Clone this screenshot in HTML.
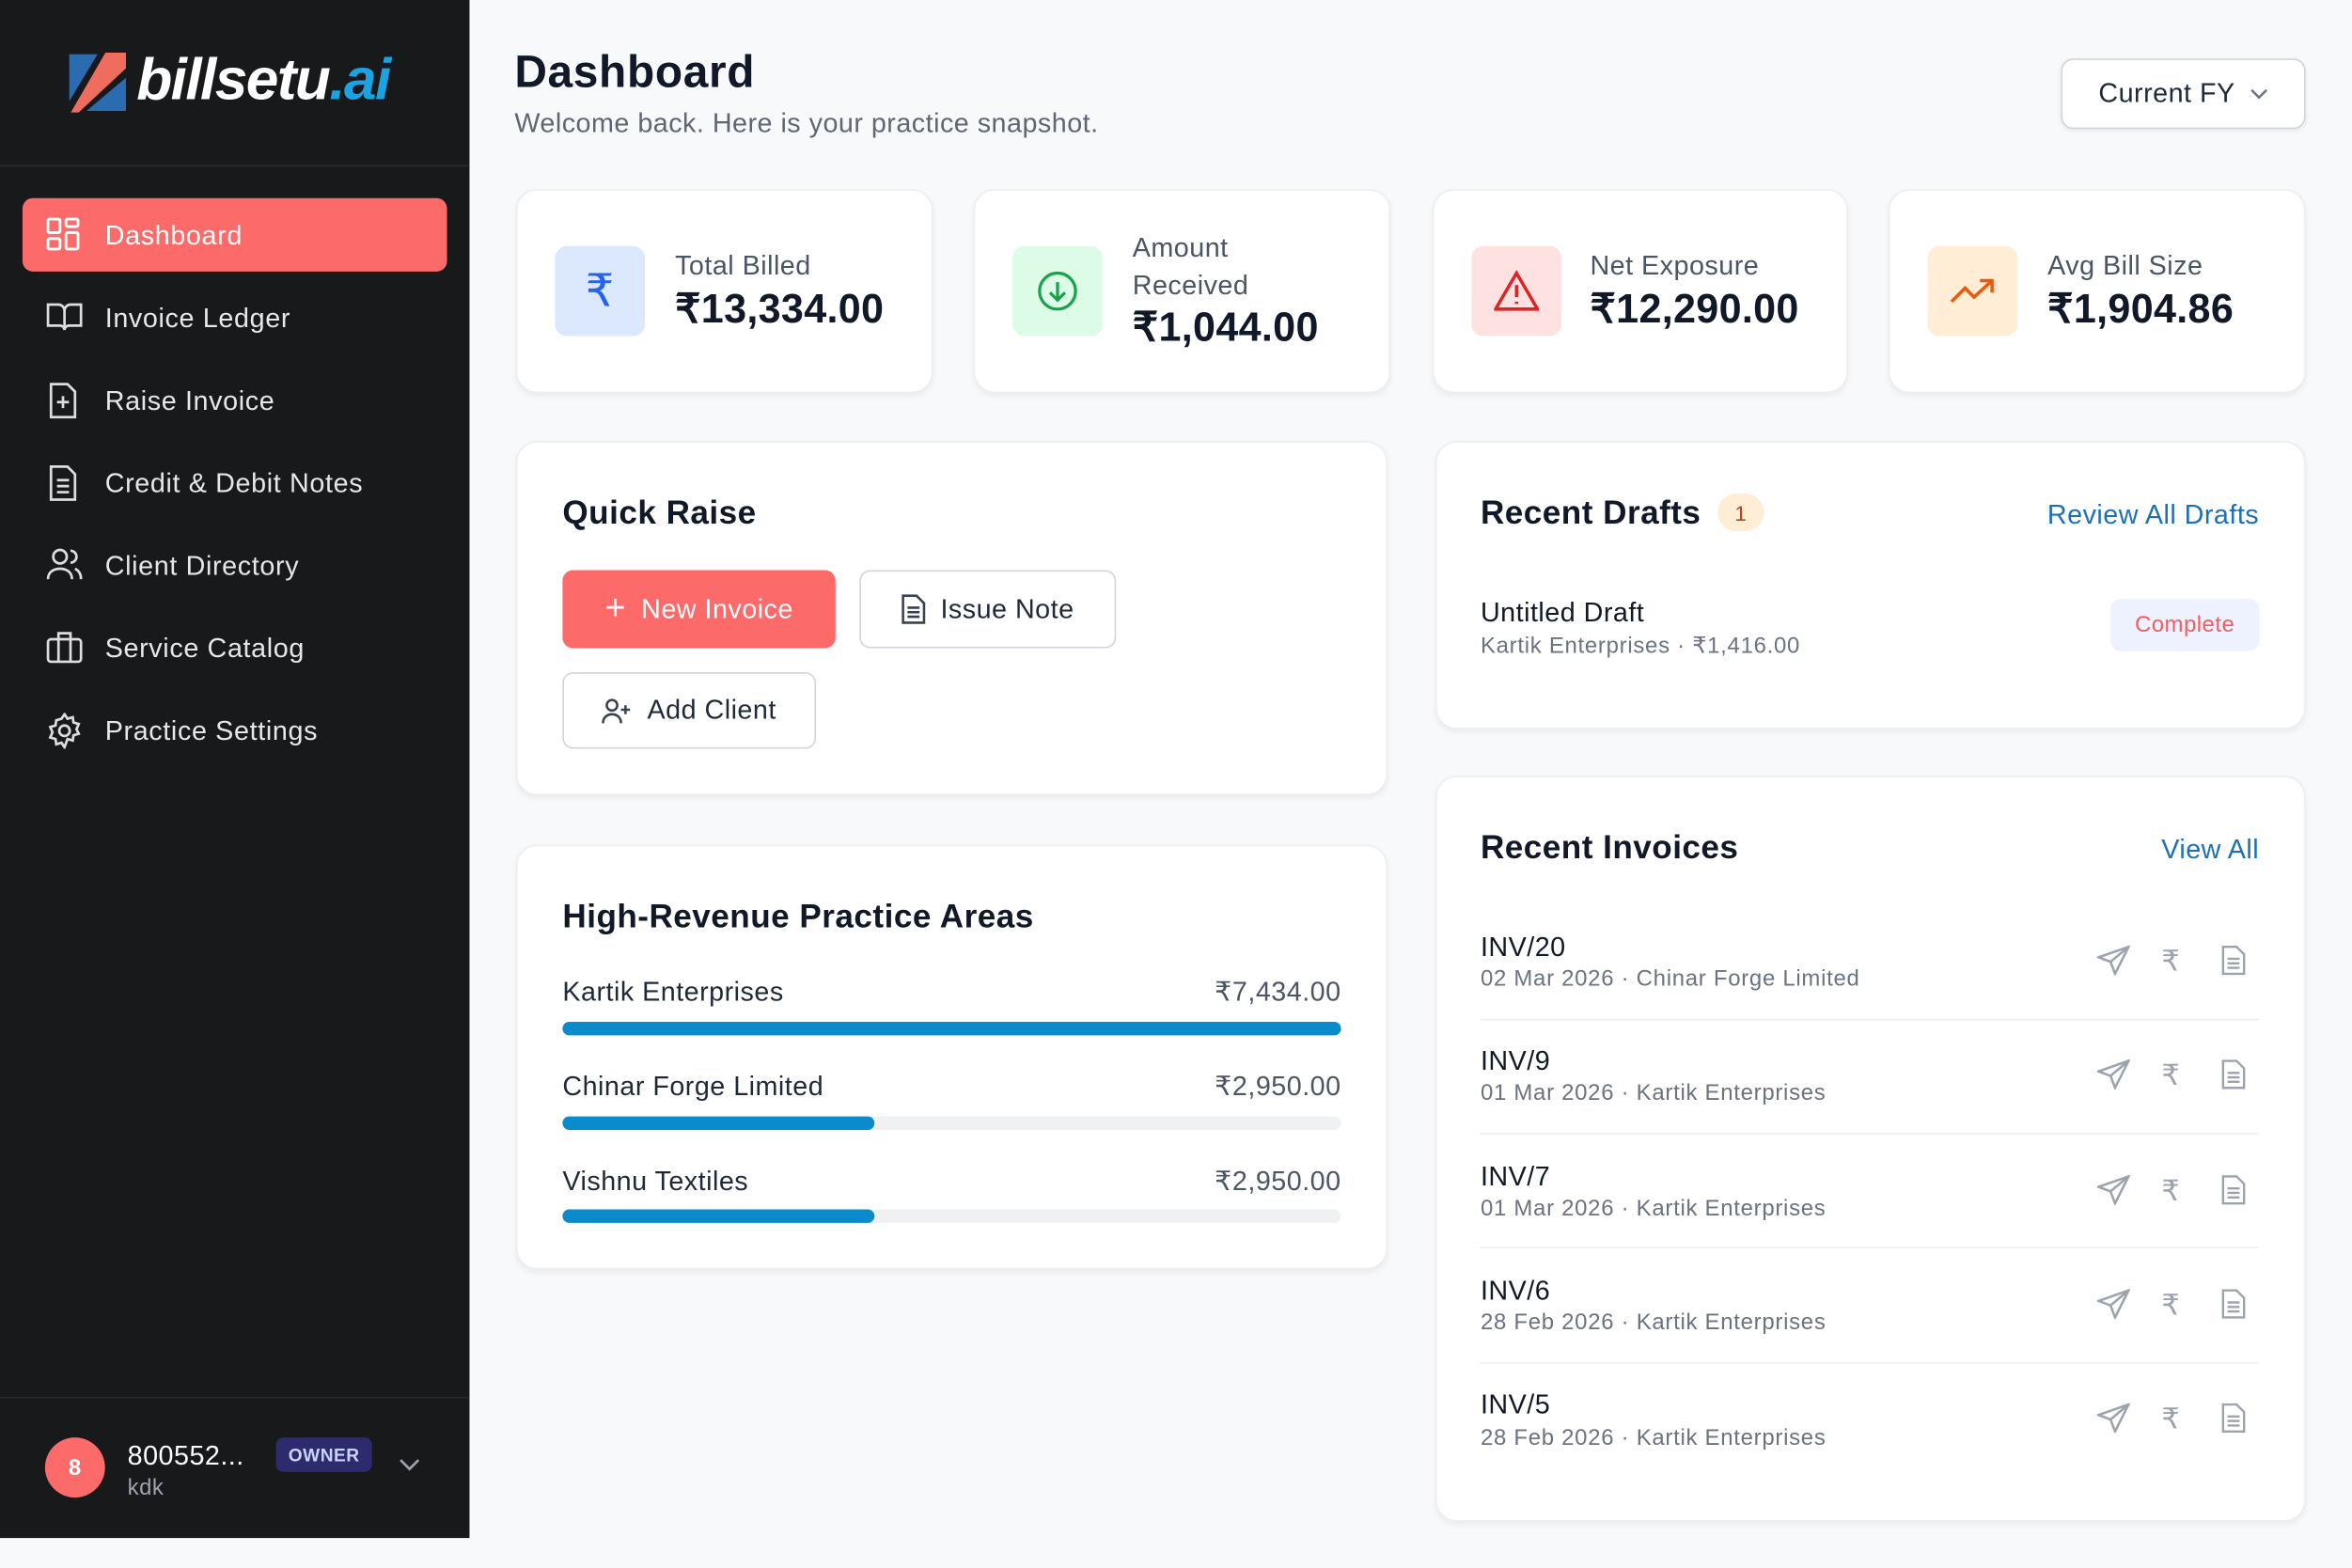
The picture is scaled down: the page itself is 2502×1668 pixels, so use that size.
<!DOCTYPE html>
<html><head><meta charset="utf-8"><style>
*{box-sizing:border-box;margin:0;padding:0}
html,body{width:2502px;height:1668px;overflow:hidden;background:#f8f9fb}
#w{position:absolute;left:0;top:0;width:1568px;height:1045px;transform:scale(1.5957,1.5962);transform-origin:0 0;font-family:"Liberation Sans",sans-serif;color:#111827;letter-spacing:0.3px}
.a{position:absolute}
.sb{left:0;top:0;width:313px;height:1025px;background:#18191b}
.nav{left:15px;width:283px;height:49px;border-radius:7px;color:#e5e7eb;font-size:18px;display:flex;align-items:center;padding-left:55px;padding-top:2px;letter-spacing:0.4px}
.nav svg{position:absolute;left:16px;top:13px}
.card{background:#fff;border:1px solid #eceef2;border-radius:14px;box-shadow:0 2px 4px rgba(0,0,0,.06)}
.ic{width:60px;height:60px;border-radius:8px;display:flex;align-items:center;justify-content:center}
.lbl{font-size:18px;color:#4b5563}
.val{font-size:27px;font-weight:bold;color:#111827;letter-spacing:0.2px}
.h{font-size:22px;font-weight:bold;color:#111827}
.btn{border:1px solid #d1d5db;border-radius:7px;background:#fff;display:flex;align-items:center;justify-content:center;font-size:18px;color:#1f2937;gap:10px}
.bar{height:9px;border-radius:5px;background:#f0f1f3;left:375px;width:519px}
.bar i{display:block;height:9px;border-radius:5px;background:#0b8bcb}
.rn{font-size:18px;color:#1f2937}
.ra{font-size:18px;color:#4b5563;text-align:right}
.inv{font-size:18px;color:#111827}
.sub{font-size:15px;color:#6b7280;letter-spacing:0.45px}
.sep{left:987px;width:519px;height:1px;background:#eceef1}
.t{margin-top:1px}
</style></head><body><div id="w">
<div class="a sb"></div>
<svg class="a" style="left:43px;top:34px" width="42" height="42" viewBox="0 0 40 40"><path d="M3 2h18L3 32z" fill="#2b6cb0"/><path d="M26 1h13v10L9 39H4z" fill="#ee6d5e"/><path d="M39 17v21H14z" fill="#2b6cb0"/></svg>
<div class="a" style="left:91px;top:32px;font-size:39px;font-weight:bold;font-style:italic;color:#fff;letter-spacing:-1px">billsetu<span style="color:#1aa3e0">.ai</span></div>
<div class="a" style="left:0;top:110px;width:313px;height:1px;background:#2a2b2e"></div>
<div class="a nav" style="top:132px;background:#fc6b6a;color:#fff"><svg width="22" height="22" viewBox="0 0 22 22" fill="none" stroke="#fff" stroke-width="1.8"><rect x="1" y="1" width="8" height="9" rx="1"/><rect x="13" y="1" width="8" height="5" rx="1"/><rect x="13" y="10" width="8" height="11" rx="1"/><rect x="1" y="14" width="8" height="7" rx="1"/></svg>Dashboard</div>
<div class="a nav" style="top:187px"><svg width="24" height="22" viewBox="0 0 24 22" fill="none" stroke="#ddd" stroke-width="1.7"><path d="M1 3h7a4 4 0 0 1 4 4v13a3 3 0 0 0-3-3H1zM23 3h-7a4 4 0 0 0-4 4v13a3 3 0 0 1 3-3h8z"/></svg>Invoice Ledger</div>
<div class="a nav" style="top:242px"><svg width="22" height="24" viewBox="0 0 22 24" fill="none" stroke="#ddd" stroke-width="1.7"><path d="M3 1h11l5 5v17H3zM11 9v8M7 13h8"/></svg>Raise Invoice</div>
<div class="a nav" style="top:297px"><svg width="22" height="24" viewBox="0 0 22 24" fill="none" stroke="#ddd" stroke-width="1.7"><path d="M3 1h11l5 5v17H3zM7 10h8M7 14h8M7 18h8"/></svg>Credit &amp; Debit Notes</div>
<div class="a nav" style="top:352px"><svg width="24" height="22" viewBox="0 0 24 22" fill="none" stroke="#ddd" stroke-width="1.7"><circle cx="9" cy="6" r="4.5"/><path d="M1 21c0-5 4-7 8-7s8 2 8 7M16 2a4 4 0 0 1 0 8M19 14c2 1 4 3 4 7"/></svg>Client Directory</div>
<div class="a nav" style="top:407px"><svg width="24" height="22" viewBox="0 0 24 22" fill="none" stroke="#ddd" stroke-width="1.7"><rect x="1" y="6" width="22" height="15" rx="2"/><path d="M8 6V2h8v4M8 6v15M16 6v15"/></svg>Service Catalog</div>
<div class="a nav" style="top:462px"><svg width="24" height="24" viewBox="0 0 24 24" fill="none" stroke="#ddd" stroke-width="1.7"><circle cx="12" cy="12" r="3.5"/><path d="M12 1l2 3 3.5-1 .5 3.5 3.5 1-1.5 3.5 1.5 3-3.5 1-.5 3.5-3.5-1L12 23l-2-3-3.5 1-.5-3.5-3.5-1L4 13 2.5 9.5l3.5-1L6.5 5 10 4z"/></svg>Practice Settings</div>
<div class="a" style="left:0;top:931px;width:313px;height:1px;background:#2a2b2e"></div>
<div class="a" style="left:30px;top:958px;width:40px;height:40px;border-radius:50%;background:#fc6b6a;color:#fff;font-weight:bold;font-size:15px;display:flex;align-items:center;justify-content:center">8</div>
<div class="a" style="left:85px;top:960px;font-size:18px;color:#fff">800552...</div>
<div class="a" style="left:85px;top:983px;font-size:15px;color:#9ca3af">kdk</div>
<div class="a" style="left:184px;top:958px;width:64px;height:23px;border-radius:5px;background:#2e2a6e;color:#c7d2fe;font-size:12px;font-weight:bold;display:flex;align-items:center;justify-content:center">OWNER</div>
<svg class="a" style="left:266px;top:972px" width="14" height="9" viewBox="0 0 14 9" fill="none" stroke="#9ca3af" stroke-width="1.7"><path d="M1 1l6 6 6-6"/></svg>

<div class="a" style="left:343px;top:32px;font-size:30px;font-weight:bold;letter-spacing:0.4px">Dashboard</div>
<div class="a" style="left:343px;top:72px;font-size:18px;color:#5f6672">Welcome back. Here is your practice snapshot.</div>
<div class="a btn" style="left:1374px;top:39px;width:163px;height:47px;border-radius:8px;box-shadow:0 1px 3px rgba(0,0,0,.08)">Current FY <svg width="12" height="8" viewBox="0 0 12 8" fill="none" stroke="#6b7280" stroke-width="1.6"><path d="M1 1l5 5 5-5"/></svg></div>

<div class="a card" style="left:344px;top:126px;width:278px;height:136px"></div>
<div class="a ic" style="left:370px;top:164px;background:#dbe8fe;color:#2563eb;font-size:30px">₹</div>
<div class="a lbl" style="left:450px;top:167px">Total Billed</div>
<div class="a val" style="left:450px;top:191px">₹13,334.00</div>
<div class="a card" style="left:649px;top:126px;width:278px;height:136px"></div>
<div class="a ic" style="left:675px;top:164px;background:#dcfce7"><svg width="28" height="28" viewBox="0 0 28 28" fill="none" stroke="#16a34a" stroke-width="2"><circle cx="14" cy="14" r="12"/><path d="M14 8v12M9 15l5 5 5-5"/></svg></div>
<div class="a lbl" style="left:755px;top:155px">Amount</div>
<div class="a lbl" style="left:755px;top:180px">Received</div>
<div class="a val" style="left:755px;top:203px">₹1,044.00</div>
<div class="a card" style="left:955px;top:126px;width:277px;height:136px"></div>
<div class="a ic" style="left:981px;top:164px;background:#fee2e2"><svg width="30" height="28" viewBox="0 0 30 28" fill="none" stroke="#dc2626" stroke-width="2.2"><path d="M15 2L1 26h28zM15 10v8M15 21v1.5"/></svg></div>
<div class="a lbl" style="left:1060px;top:167px">Net Exposure</div>
<div class="a val" style="left:1060px;top:191px">₹12,290.00</div>
<div class="a card" style="left:1259px;top:126px;width:278px;height:136px"></div>
<div class="a ic" style="left:1285px;top:164px;background:#ffedd5"><svg width="30" height="20" viewBox="0 0 30 20" fill="none" stroke="#ea580c" stroke-width="2.2"><path d="M1 17l9-9 6 6L28 3M20 3h8v8"/></svg></div>
<div class="a lbl" style="left:1365px;top:167px">Avg Bill Size</div>
<div class="a val" style="left:1365px;top:191px">₹1,904.86</div>

<div class="a card" style="left:344px;top:294px;width:581px;height:236px"></div>
<div class="a h" style="left:375px;top:329px">Quick Raise</div>
<div class="a btn" style="left:375px;top:380px;width:182px;height:52px;background:#fc6b6a;border-color:#fc6b6a;color:#fff"><span style="font-size:24px;font-weight:300">+</span>New Invoice</div>
<div class="a btn" style="left:573px;top:380px;width:171px;height:52px"><svg width="16" height="20" viewBox="0 0 16 20" fill="none" stroke="#374151" stroke-width="1.6"><path d="M1 1h9l5 5v13H1zM4 9h8M4 12h8M4 15h8"/></svg>Issue Note</div>
<div class="a btn" style="left:375px;top:448px;width:169px;height:51px"><svg width="20" height="18" viewBox="0 0 20 18" fill="none" stroke="#374151" stroke-width="1.6"><circle cx="7" cy="5" r="3.5"/><path d="M1 17c0-4 3-6 6-6s6 2 6 6M16 5v6M13 8h6"/></svg>Add Client</div>

<div class="a card" style="left:344px;top:563px;width:581px;height:283px"></div>
<div class="a h" style="left:375px;top:598px">High-Revenue Practice Areas</div>
<div class="a rn" style="left:375px;top:651px">Kartik Enterprises</div>
<div class="a ra" style="left:700px;top:651px;width:194px">₹7,434.00</div>
<div class="a bar" style="top:681px"><i style="width:519px"></i></div>
<div class="a rn" style="left:375px;top:714px">Chinar Forge Limited</div>
<div class="a ra" style="left:700px;top:714px;width:194px">₹2,950.00</div>
<div class="a bar" style="top:744px"><i style="width:208px"></i></div>
<div class="a rn" style="left:375px;top:777px">Vishnu Textiles</div>
<div class="a ra" style="left:700px;top:777px;width:194px">₹2,950.00</div>
<div class="a bar" style="top:806px"><i style="width:208px"></i></div>

<div class="a card" style="left:957px;top:294px;width:580px;height:192px"></div>
<div class="a h" style="left:987px;top:329px">Recent Drafts</div>
<div class="a" style="left:1145px;top:329px;width:31px;height:25px;border-radius:13px;background:#ffedd5;color:#c2410c;font-size:14px;display:flex;align-items:center;justify-content:center">1</div>
<div class="a" style="left:1280px;top:333px;width:226px;text-align:right;font-size:18px;color:#1d6fb8">Review All Drafts</div>
<div class="a inv" style="left:987px;top:398px">Untitled Draft</div>
<div class="a sub" style="left:987px;top:421px">Kartik Enterprises · ₹1,416.00</div>
<div class="a" style="left:1407px;top:399px;width:99px;height:35px;border-radius:7px;background:#eef2ff;color:#f05f5f;font-size:15px;display:flex;align-items:center;justify-content:center">Complete</div>

<div class="a card" style="left:957px;top:517px;width:580px;height:497px"></div>
<div class="a h" style="left:987px;top:552px">Recent Invoices</div>
<div class="a" style="left:1400px;top:556px;width:106px;text-align:right;font-size:18px;color:#1d6fb8">View All</div>
<div class="a inv" style="left:987px;top:621px">INV/20</div><div class="a sub" style="left:987px;top:644px">02 Mar 2026 · Chinar Forge Limited</div>
<div class="a sep" style="top:679px"></div>
<div class="a inv" style="left:987px;top:697px">INV/9</div><div class="a sub" style="left:987px;top:720px">01 Mar 2026 · Kartik Enterprises</div>
<div class="a sep" style="top:755px"></div>
<div class="a inv" style="left:987px;top:774px">INV/7</div><div class="a sub" style="left:987px;top:797px">01 Mar 2026 · Kartik Enterprises</div>
<div class="a sep" style="top:831px"></div>
<div class="a inv" style="left:987px;top:850px">INV/6</div><div class="a sub" style="left:987px;top:873px">28 Feb 2026 · Kartik Enterprises</div>
<div class="a sep" style="top:908px"></div>
<div class="a inv" style="left:987px;top:926px">INV/5</div><div class="a sub" style="left:987px;top:950px">28 Feb 2026 · Kartik Enterprises</div>
<div id="icons"></div>
<script>
var ys=[640,716,793,869,945],h='';
ys.forEach(function(y){
h+='<svg class="a" style="left:1398px;top:'+(y-10)+'px" width="22" height="20" viewBox="0 0 22 20" fill="none" stroke="#9ca3af" stroke-width="1.6"><path d="M21 1L1 8l8 3 3 8zM9 11L21 1"/></svg>';
h+='<div class="a" style="left:1441px;top:'+(y-10)+'px;font-size:19px;color:#9ca3af">₹</div>';
h+='<svg class="a" style="left:1481px;top:'+(y-10)+'px" width="16" height="20" viewBox="0 0 16 20" fill="none" stroke="#9ca3af" stroke-width="1.5"><path d="M1 1h9l5 5v13H1zM4 9h8M4 12h8M4 15h8"/></svg>';
});
document.getElementById('icons').innerHTML=h;
</script>
</div></body></html>
